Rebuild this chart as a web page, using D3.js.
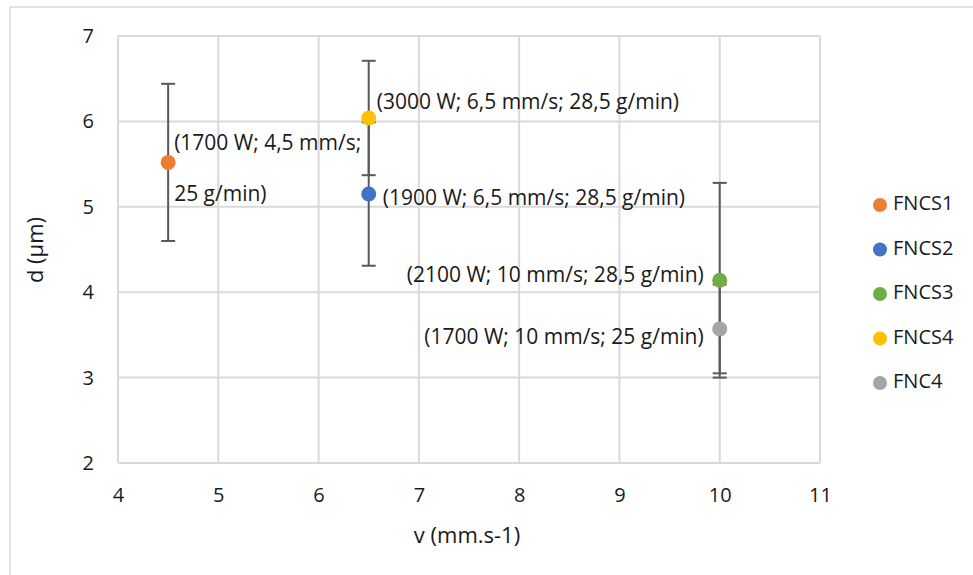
<html lang="en">
<head>
<meta charset="utf-8">
<title>d vs v</title>
<style>
  body { margin: 0; background: white; font-family: "Open Sans", Lato, sans-serif; }
  .grid line { stroke: #d9d9d9; stroke-width: 2px; }
  .tick text { font-size: 20px; fill: #1a1a1a; font-family: "Open Sans", sans-serif; }
</style>
<script src="https://d3js.org/d3.v7.min.js"></script>
</head>
<body>
<div id="chart"></div>
<script>
var width = 973, height = 575;

// data
var series = ["FNCS1", "FNCS2", "FNCS3", "FNCS4", "FNC4"];
var colors = ["#ed7d31", "#4472c4", "#70ad47", "#ffc000", "#a5a5a5"];
var vValues = [4.5, 6.5, 10, 6.5, 10];
var dValues = [5.52, 5.15, 4.14, 6.04, 3.57];
var dErrors = [0.92, 0.84, 1.14, 0.67, 0.52];
var pointLabels = [
  ["(1700 W; 4,5 mm/s;", "25 g/min)"],
  ["(1900 W; 6,5 mm/s; 28,5 g/min)"],
  ["(2100 W; 10 mm/s; 28,5 g/min)"],
  ["(3000 W; 6,5 mm/s; 28,5 g/min)"],
  ["(1700 W; 10 mm/s; 25 g/min)"]
];
var xTicks = [4, 5, 6, 7, 8, 9, 10, 11];
var yTicks = [2, 3, 4, 5, 6, 7];

var margin = { left: 118, top: 36, right: 820, bottom: 463 };

var svg = d3.select("#chart").append("svg")
  .attr("width", width).attr("height", height);

// outer chart border
svg.append("rect")
  .attr("x", 10).attr("y", 7)
  .attr("width", 980).attr("height", 600)
  .attr("fill", "none").attr("stroke", "#d9d9d9").attr("stroke-width", 1.5);

var x = d3.scaleLinear().domain([4, 11]).range([margin.left, margin.right]);
var y = d3.scaleLinear().domain([2, 7]).range([margin.bottom, margin.top]);

// gridlines
var grid = svg.append("g").attr("class", "grid");
grid.selectAll(".vx").data(xTicks).enter().append("line")
  .attr("x1", d => x(d)).attr("x2", d => x(d))
  .attr("y1", margin.top).attr("y2", margin.bottom);
grid.selectAll(".hy").data(yTicks).enter().append("line")
  .attr("x1", margin.left).attr("x2", margin.right)
  .attr("y1", d => y(d)).attr("y2", d => y(d));

// axes (labels only)
var xAxis = svg.append("g")
  .attr("transform", "translate(0," + margin.bottom + ")")
  .call(d3.axisBottom(x).tickValues(xTicks).tickSize(0).tickPadding(25).tickFormat(d3.format("d")));
xAxis.select(".domain").remove();

var yAxis = svg.append("g")
  .attr("transform", "translate(" + margin.left + ",0)")
  .call(d3.axisLeft(y).tickValues(yTicks).tickSize(0).tickPadding(24).tickFormat(d3.format("d")));
yAxis.select(".domain").remove();

// axis titles
svg.append("text")
  .attr("x", 467).attr("y", 537)
  .attr("text-anchor", "middle").attr("dominant-baseline", "middle")
  .attr("font-size", 22).attr("fill", "#1a1a1a")
  .text("v (mm.s-1)");
svg.append("text")
  .attr("transform", "translate(37,250) rotate(-90)")
  .attr("text-anchor", "middle").attr("dominant-baseline", "middle")
  .attr("font-size", 22).attr("fill", "#1a1a1a")
  .text("d (µm)");

var data = series.map(function (s, i) {
  return { name: s, color: colors[i], v: vValues[i], d: dValues[i], e: dErrors[i], label: pointLabels[i] };
});

// error bars
var err = svg.append("g").attr("stroke", "#595959").attr("stroke-width", 2);
data.forEach(function (p) {
  var cx = x(p.v);
  err.append("line").attr("x1", cx).attr("x2", cx)
    .attr("y1", y(p.d - p.e)).attr("y2", y(p.d + p.e));
  [p.d - p.e, p.d + p.e].forEach(function (v) {
    err.append("line").attr("x1", cx - 7).attr("x2", cx + 7)
      .attr("y1", y(v)).attr("y2", y(v));
  });
});

// points
svg.append("g").selectAll("circle").data(data).enter().append("circle")
  .attr("cx", d => x(d.v)).attr("cy", d => y(d.d))
  .attr("r", 7.5).attr("fill", d => d.color);

// point labels: [dx, dy of first line, anchor, line spacing]
var labelPos = [
  [6, -18, "start", 51],
  [14, 5, "start", 0],
  [-16, -4, "end", 0],
  [8, -15, "start", 0],
  [-16, 9, "end", 0]
];
var lab = svg.append("g").attr("font-size", 21).attr("fill", "#1a1a1a");
data.forEach(function (p, i) {
  var pos = labelPos[i];
  p.label.forEach(function (t, j) {
    lab.append("text")
      .attr("x", x(p.v) + pos[0])
      .attr("y", y(p.d) + pos[1] + j * pos[3])
      .attr("text-anchor", pos[2])
      .attr("dominant-baseline", "middle")
      .text(t);
  });
});

// legend
var legend = svg.append("g").attr("transform", "translate(880,205)");
var item = legend.selectAll("g").data(data).enter().append("g")
  .attr("transform", (d, i) => "translate(0," + (i * 44.5) + ")");
item.append("circle").attr("r", 7).attr("fill", d => d.color);
item.append("text").attr("x", 13).attr("dominant-baseline", "middle")
  .attr("font-size", 20).attr("fill", "#1a1a1a").text(d => d.name);
</script>
</body>
</html>
